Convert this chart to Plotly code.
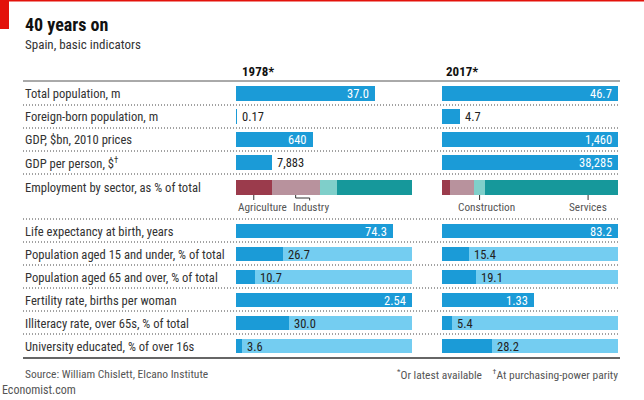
import plotly.graph_objects as go

# ---------------- data ----------------
row_labels = [
    "Total population, m",
    "Foreign-born population, m",
    "GDP, $bn, 2010 prices",
    "GDP per person, $<sup>†</sup>",
    "Life expectancy at birth, years",
    "Population aged 15 and under, % of total",
    "Population aged 65 and over, % of total",
    "Fertility rate, births per woman",
    "Illiteracy rate, over 65s, % of total",
    "University educated, % of over 16s",
]
values_1978 = [37.0, 0.17, 640, 7883, 74.3, 26.7, 10.7, 2.54, 30.0, 3.6]
values_2017 = [46.7, 4.7, 1460, 38285, 83.2, 15.4, 19.1, 1.33, 5.4, 28.2]
text_1978 = ["37.0", "0.17", "640", "7,883", "74.3", "26.7", "10.7", "2.54", "30.0", "3.6"]
text_2017 = ["46.7", "4.7", "1,460", "38,285", "83.2", "15.4", "19.1", "1.33", "5.4", "28.2"]
share_rows = [False, False, False, False, False, True, True, False, True, True]
# foreign-born population drawn on the total-population scale
scale_with = [None, 0, None, None, None, None, None, None, None, None]

emp_label = "Employment by sector, as % of total"
sectors = ["Agriculture", "Industry", "Construction", "Services"]
emp_1978 = [20.2, 27.4, 9.9, 42.5]
emp_2017 = [4.4, 13.9, 6.1, 75.6]

# ---------------- style / layout ----------------
W, H = 644, 400
FONT = "Liberation Sans Narrow, Arial Narrow, Roboto Condensed, DejaVu Sans Condensed, Roboto, sans-serif"
BLUE = "#1b9bd7"
LIGHT = "#74cdf1"
SECT_COL = ["#9b3b4c", "#b8929d", "#7fcfca", "#16989b"]
TXT = "#333333"
GREY = "#555555"
P1 = (236, 412)
P2 = (442, 618)
PW = P1[1] - P1[0]
LEFT = 23
RIGHT = 620
BAR_H = 14.5

bar_y = [93.5, 116.5, 139.5, 162.5, 231, 254, 277, 300, 323, 346]
emp_y = 187
seps = [105, 128, 151, 174, 219, 242, 265, 288, 311, 334]


def px(x):
    return x / W


# normalise each row to its own maximum (shares to 100)
def row_max(i):
    if share_rows[i]:
        return 100.0
    j = scale_with[i] if scale_with[i] is not None else i
    return max(values_1978[j], values_2017[j])


norm_1978 = [values_1978[i] / row_max(i) for i in range(len(values_1978))]
norm_2017 = [values_2017[i] / row_max(i) for i in range(len(values_2017))]

fig = go.Figure()

for xa, norm in (("x", norm_1978), ("x2", norm_2017)):
    ly = [bar_y[i] for i in range(len(norm)) if share_rows[i]]
    fig.add_trace(go.Bar(
        x=[1.0] * len(ly), y=ly, orientation="h", width=BAR_H, textposition="none",
        marker=dict(color=LIGHT, line=dict(width=0)), xaxis=xa, yaxis="y",
        hoverinfo="skip", showlegend=False))
    fig.add_trace(go.Bar(
        x=norm, y=bar_y, orientation="h", width=BAR_H, textposition="none",
        marker=dict(color=BLUE, line=dict(width=0)), xaxis=xa, yaxis="y",
        hoverinfo="skip", showlegend=False))

for xa, emp in (("x", emp_1978), ("x2", emp_2017)):
    base = []
    acc = 0.0
    for v in emp:
        base.append(acc / 100)
        acc += v
    fig.add_trace(go.Bar(
        x=[v / 100 for v in emp], base=base, y=[emp_y] * len(emp), orientation="h",
        width=15, textposition="none",
        marker=dict(color=SECT_COL, line=dict(width=0)), xaxis=xa, yaxis="y",
        hoverinfo="skip", showlegend=False))

annotations = []
shapes = []

# value labels
for xa, norm, texts in (("x", norm_1978, text_1978), ("x2", norm_2017, text_2017)):
    for i, (n, t) in enumerate(zip(norm, texts)):
        inside = (not share_rows[i]) and n * PW > 40
        annotations.append(dict(
            x=n, y=bar_y[i], xref=xa, yref="y", text=t, showarrow=False,
            xanchor="right" if inside else "left", yanchor="middle",
            xshift=-4 if inside else 3, yshift=0,
            font=dict(family=FONT, size=12.5, color="white" if inside else "#222222")))

# row labels
for lab, y in zip(row_labels, bar_y):
    annotations.append(dict(x=px(LEFT), y=y, xref="paper", yref="y", text=lab,
                            showarrow=False, xanchor="left", yanchor="middle",
                            font=dict(family=FONT, size=12.6, color=TXT)))
annotations.append(dict(x=px(LEFT), y=emp_y, xref="paper", yref="y", text=emp_label,
                        showarrow=False, xanchor="left", yanchor="middle",
                        font=dict(family=FONT, size=12.6, color=TXT)))


# sector labels and ticks
def centres(emp):
    out, acc = [], 0.0
    for v in emp:
        out.append((acc + v / 2) / 100)
        acc += v
    return out


c78 = centres(emp_1978)
c17 = centres(emp_2017)
lab_y = 207
SFONT = dict(family=FONT, size=11.3, color=GREY)
tick = dict(type="line", yref="y", line=dict(color="#333333", width=1))
# Agriculture
shapes.append(dict(tick, xref="x", x0=c78[0], x1=c78[0], y0=195, y1=200))
annotations.append(dict(x=0, y=lab_y, xref="x", yref="y", text=sectors[0], showarrow=False,
                        xanchor="left", yanchor="middle", xshift=0, font=SFONT))
# Industry (bracket)
shapes.append(dict(tick, xref="x", x0=c78[1], x1=c78[1], y0=195, y1=198))
ind_lab = c78[1] + 14 / PW
shapes.append(dict(tick, xref="x", x0=c78[1], x1=ind_lab, y0=198, y1=198))
shapes.append(dict(tick, xref="x", x0=ind_lab, x1=ind_lab, y0=198, y1=200.5))
annotations.append(dict(x=ind_lab, y=lab_y, xref="x", yref="y", text=sectors[1], showarrow=False,
                        xanchor="center", yanchor="middle", xshift=1, font=SFONT))
# Construction
shapes.append(dict(tick, xref="x2", x0=c17[2], x1=c17[2], y0=195, y1=200))
annotations.append(dict(x=c17[2], y=lab_y, xref="x2", yref="y", text=sectors[2], showarrow=False,
                        xanchor="center", yanchor="middle", xshift=7, font=SFONT))
# Services (pointer placed towards the right end of the segment)
serv_x = 0.83
shapes.append(dict(tick, xref="x2", x0=serv_x, x1=serv_x, y0=195, y1=200))
annotations.append(dict(x=serv_x, y=lab_y, xref="x2", yref="y", text=sectors[3], showarrow=False,
                        xanchor="center", yanchor="middle", font=SFONT))

# separators
for y in seps:
    shapes.append(dict(type="line", xref="paper", yref="y", x0=px(LEFT), x1=px(RIGHT), y0=y, y1=y,
                       line=dict(color="#444444", width=1, dash="1px,2px")))
shapes.append(dict(type="line", xref="paper", yref="y", x0=px(LEFT), x1=px(RIGHT), y0=81, y1=81,
                   line=dict(color="#555555", width=1)))
shapes.append(dict(type="line", xref="paper", yref="y", x0=px(LEFT), x1=px(RIGHT), y0=358, y1=358,
                   line=dict(color="#333333", width=1.5)))
# red marks
shapes.append(dict(type="rect", xref="paper", yref="y", x0=0, x1=px(9), y0=0, y1=29,
                   fillcolor="#e3120b", line=dict(width=0)))
shapes.append(dict(type="rect", xref="paper", yref="y", x0=0, x1=1, y0=0, y1=1.5,
                   fillcolor="#e3120b", line=dict(width=0)))

# titles and headers
annotations += [
    dict(x=px(LEFT), y=24, xref="paper", yref="y", text="<b>40 years on</b>", showarrow=False,
         xanchor="left", yanchor="middle", font=dict(family=FONT, size=18, color="#111111")),
    dict(x=px(LEFT), y=44, xref="paper", yref="y", text="Spain, basic indicators", showarrow=False,
         xanchor="left", yanchor="middle", font=dict(family=FONT, size=13, color=TXT)),
    dict(x=px(240), y=71, xref="paper", yref="y", text="<b>1978*</b>", showarrow=False,
         xanchor="left", yanchor="middle", font=dict(family=FONT, size=13, color="#111111")),
    dict(x=px(444), y=71, xref="paper", yref="y", text="<b>2017*</b>", showarrow=False,
         xanchor="left", yanchor="middle", font=dict(family=FONT, size=13, color="#111111")),
    dict(x=px(LEFT), y=374, xref="paper", yref="y", text="Source: William Chislett, Elcano Institute",
         showarrow=False, xanchor="left", yanchor="middle", font=dict(family=FONT, size=11.5, color=GREY)),
    dict(x=px(RIGHT), y=374, xref="paper", yref="y",
         text="<sup>*</sup>Or latest available    <sup>†</sup>At purchasing-power parity",
         showarrow=False, xanchor="right", yanchor="middle", font=dict(family=FONT, size=11.5, color=GREY)),
    dict(x=0, y=390, xref="paper", yref="y", text="Economist.com", showarrow=False,
         xanchor="left", yanchor="middle", font=dict(family=FONT, size=12, color=GREY)),
]

fig.update_layout(
    width=W, height=H, margin=dict(l=0, r=0, t=0, b=0),
    paper_bgcolor="white", plot_bgcolor="white",
    barmode="overlay", bargap=0, showlegend=False, hovermode=False,
    xaxis=dict(domain=[px(P1[0]), px(P1[1])], range=[0, 1], visible=False, fixedrange=True),
    xaxis2=dict(domain=[px(P2[0]), px(P2[1])], range=[0, 1], visible=False, anchor="y", fixedrange=True),
    yaxis=dict(domain=[0, 1], range=[H, 0], visible=False, fixedrange=True),
    shapes=shapes, annotations=annotations,
)

fig.write_html("out.html", config={"displayModeBar": False})
